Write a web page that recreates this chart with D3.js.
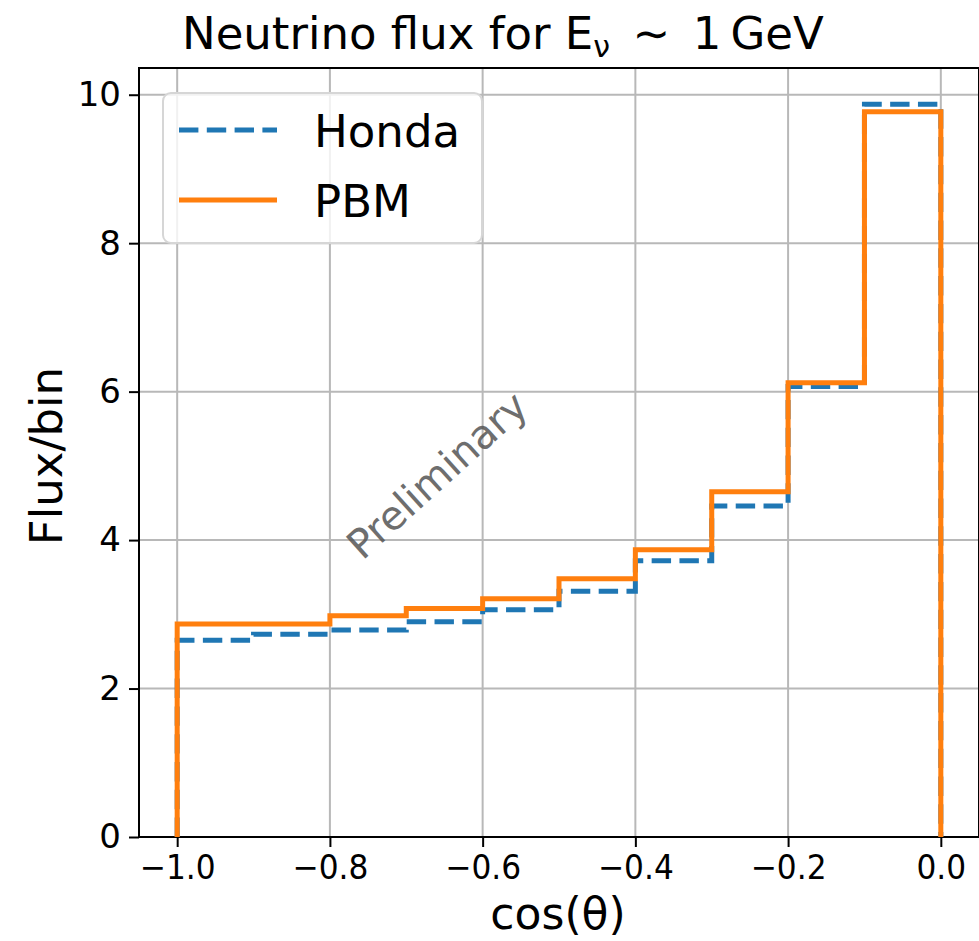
<!DOCTYPE html>
<html>
<head>
<meta charset="utf-8">
<script src="https://cdn.jsdelivr.net/npm/d3@7"></script>
<style>
  body { margin: 0; background: #fff; }
  text { font-family: "DejaVu Sans", sans-serif; }
</style>
</head>
<body>
<div id="chart"></div>
<script>
/* DATA */
// bin edges in cos(theta)
let binEdges = [-1.0, -0.9, -0.8, -0.7, -0.6, -0.5, -0.4, -0.3, -0.2, -0.1, 0.0]
// flux per bin
let honda = [2.65, 2.73, 2.79, 2.90, 3.06, 3.31, 3.72, 4.46, 6.07, 9.87]
let pbm = [2.87, 2.87, 2.98, 3.08, 3.21, 3.48, 3.87, 4.65, 6.12, 9.77]

let xTicks = [-1.0, -0.8, -0.6, -0.4, -0.2, 0.0]
let yTicks = [0, 2, 4, 6, 8, 10]

/* SVG OBJECT */
let svgWidth = 979
let svgHeight = 941

let svg = d3.select('#chart').append('svg').attr("width", svgWidth).attr("height", svgHeight)

// plot frame in pixels
let frame = { left: 139, right: 979, top: 68, bottom: 837 }

let x = d3.scaleLinear().domain([-1.05, 0.05]).range([frame.left, frame.right])
let y = d3.scaleLinear().domain([0, 10.36]).range([frame.bottom, frame.top])

//Grid lines
let grid = svg.append("g").attr("stroke", "#b8b8b8").attr("stroke-width", 2)
grid.selectAll(".vgrid").data(xTicks).join("line")
    .attr("x1", d => x(d)).attr("x2", d => x(d))
    .attr("y1", frame.top).attr("y2", frame.bottom)
grid.selectAll(".hgrid").data(yTicks).join("line")
    .attr("x1", frame.left).attr("x2", frame.right)
    .attr("y1", d => y(d)).attr("y2", d => y(d))

//Axes
let fmt = d => d3.format(".1f")(d).replace("-", "\u2212")

let xAxis = svg.append("g")
    .attr("transform", `translate(0, ${frame.bottom})`)
    .call(d3.axisBottom(x).tickValues(xTicks).tickFormat(fmt).tickSize(10).tickPadding(8))
// tick labels in the picture are a bit narrower than DejaVu
xAxis.selectAll("text").attr("font-size", 34).attr("fill", "#000").attr("font-family", "DejaVu Sans")
    .attr("transform", "scale(0.92,1)")

let yAxis = svg.append("g")
    .attr("transform", `translate(${frame.left}, 0)`)
    .call(d3.axisLeft(y).tickValues(yTicks).tickSize(10).tickPadding(8))
yAxis.selectAll("text").attr("font-size", 34).attr("fill", "#000").attr("font-family", "DejaVu Sans")

svg.selectAll(".domain").remove()
svg.selectAll(".tick line").attr("stroke", "#000").attr("stroke-width", 2)

// frame box
svg.append("rect")
    .attr("x", frame.left).attr("y", frame.top)
    .attr("width", frame.right - frame.left).attr("height", frame.bottom - frame.top)
    .attr("fill", "none").attr("stroke", "#000").attr("stroke-width", 2)

/* STEP HISTOGRAMS */
function stepPoints(values) {
    let pts = [[binEdges[0], 0]]
    values.forEach((v, i) => {
        pts.push([binEdges[i], v])
        pts.push([binEdges[i + 1], v])
    })
    pts.push([binEdges[binEdges.length - 1], 0])
    return pts
}

let line = d3.line().x(d => x(d[0])).y(d => y(d[1]))

svg.append("path")
    .attr("d", line(stepPoints(honda)))
    .attr("fill", "none").attr("stroke", "#1f77b4").attr("stroke-width", 5)
    .attr("stroke-dasharray", "19.4,8.4")

svg.append("path")
    .attr("d", line(stepPoints(pbm)))
    .attr("fill", "none").attr("stroke", "#ff7f0e").attr("stroke-width", 5)

/* WATERMARK */
svg.append("text")
    .attr("transform", "translate(437,475) rotate(-42)")
    .attr("text-anchor", "middle").attr("dy", "0.35em")
    .attr("font-size", 40).attr("fill", "#555").attr("opacity", 0.85)
    .text("Preliminary")

/* LEGEND */
let legend = svg.append("g")
legend.append("rect")
    .attr("x", 163).attr("y", 93).attr("width", 319).attr("height", 150).attr("rx", 8)
    .attr("fill", "#fff").attr("fill-opacity", 0.8)
    .attr("stroke", "#d6d6d6").attr("stroke-width", 2)

let legendItems = [
    { name: "Honda", color: "#1f77b4", dash: "19.4,8.4", y: 130 },
    { name: "PBM", color: "#ff7f0e", dash: null, y: 200 }
]
legendItems.forEach(item => {
    legend.append("line")
        .attr("x1", 179).attr("x2", 277).attr("y1", item.y).attr("y2", item.y)
        .attr("stroke", item.color).attr("stroke-width", 5)
        .attr("stroke-dasharray", item.dash)
    legend.append("text")
        .attr("x", 314).attr("y", item.y + 17)
        .attr("font-size", 45).attr("fill", "#000")
        .text(item.name)
})

/* LABELS */
let title = svg.append("text")
    .attr("x", 182).attr("y", 49)
    .attr("font-size", 45).attr("fill", "#000")
title.append("tspan").text("Neutrino flux for E")
title.append("tspan").attr("font-size", 30).attr("dy", 8).text("\u03bd")
title.append("tspan").attr("dy", -8).text("\u2002\u223c\u20021\u2009GeV")

svg.append("text")
    .attr("x", 558).attr("y", 929).attr("text-anchor", "middle")
    .attr("font-size", 44).attr("fill", "#000")
    .text("cos(\u03b8)")

svg.append("text")
    .attr("transform", "translate(62,456) rotate(-90)")
    .attr("text-anchor", "middle")
    .attr("font-size", 45).attr("fill", "#000")
    .text("Flux/bin")
</script>
</body>
</html>
